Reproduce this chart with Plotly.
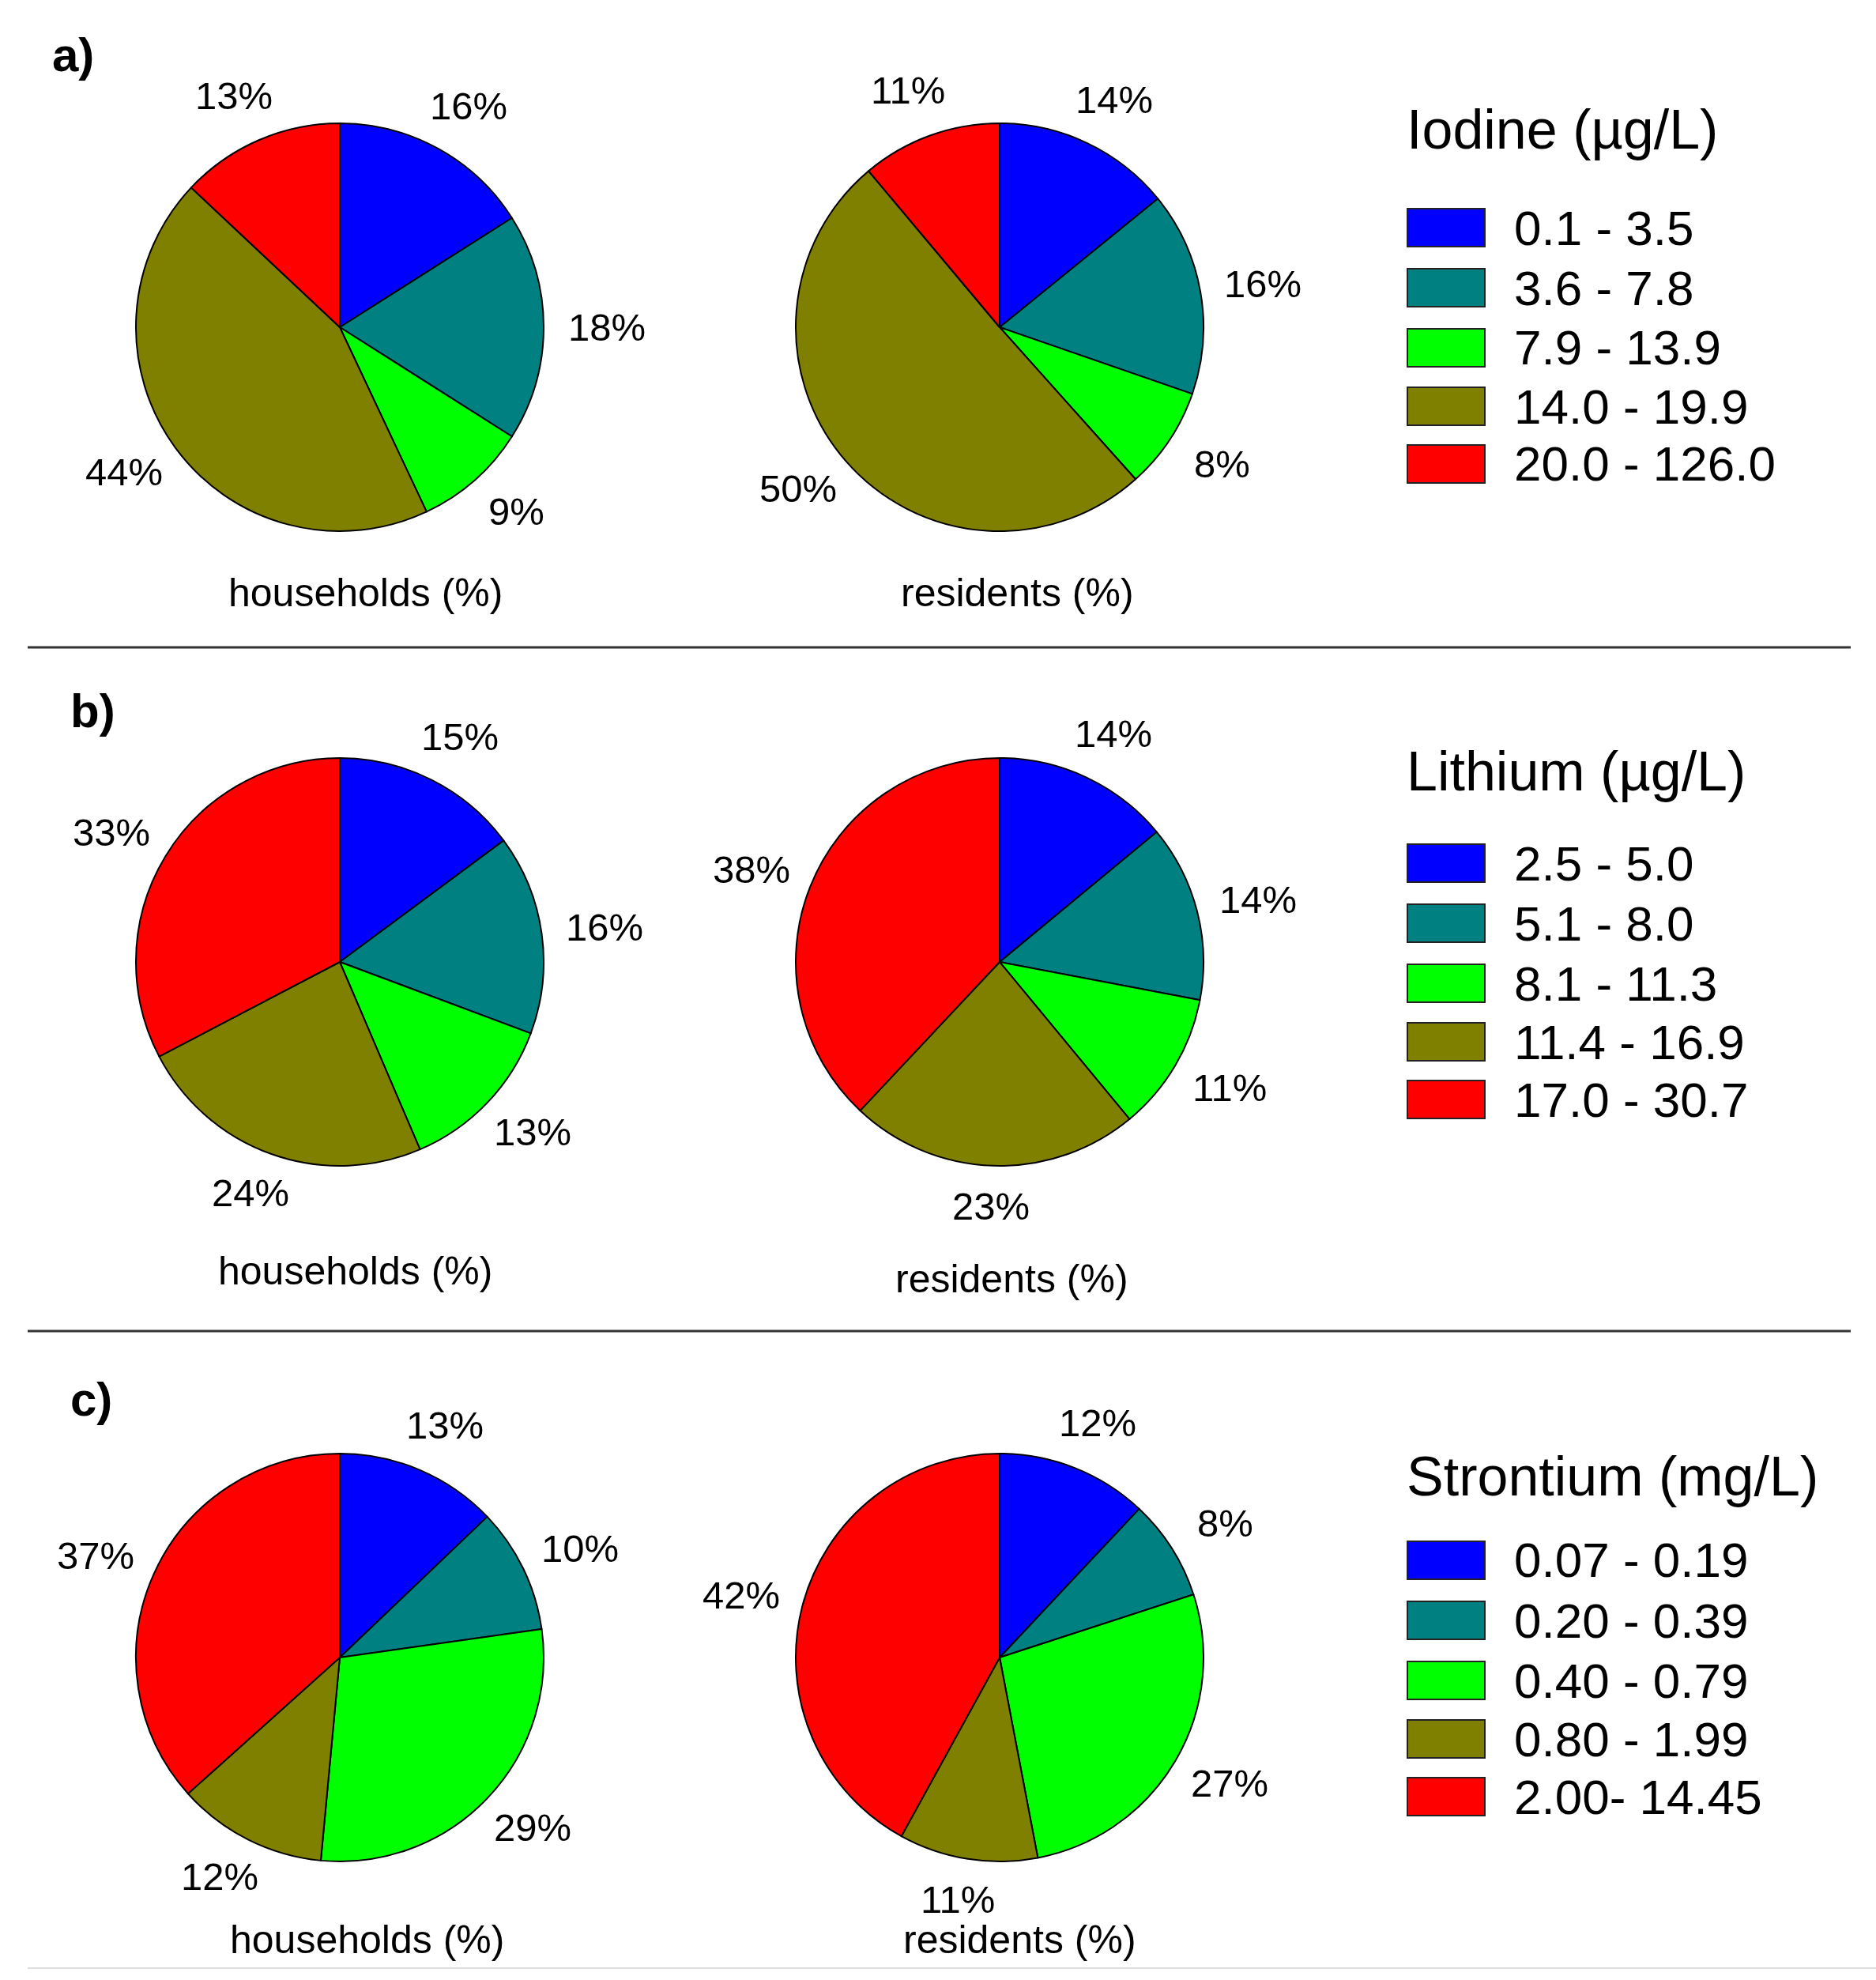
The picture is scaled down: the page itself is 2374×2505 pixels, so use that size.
import math
import plotly.graph_objects as go

# slice colours shared by all three panels (lowest class first)
colors = ["#0000FF", "#008080", "#00FF00", "#808000", "#FF0000"]

# a) iodine
iodine_classes = ["0.1 - 3.5", "3.6 - 7.8", "7.9 - 13.9", "14.0 - 19.9", "20.0 - 126.0"]
iodine_households = [16, 18, 9, 44, 13]
iodine_residents = [14, 16, 8, 50, 11]

# b) lithium
lithium_classes = ["2.5 - 5.0", "5.1 - 8.0", "8.1 - 11.3", "11.4 - 16.9", "17.0 - 30.7"]
lithium_households = [15, 16, 13, 24, 33]
lithium_residents = [14, 14, 11, 23, 38]

# c) strontium
strontium_classes = ["0.07 - 0.19", "0.20 - 0.39", "0.40 - 0.79", "0.80 - 1.99", "2.00- 14.45"]
strontium_households = [13, 10, 29, 12, 37]
strontium_residents = [12, 8, 27, 11, 42]

W, H = 2374, 2505
FONT = "Liberation Sans, Arial, sans-serif"
R = 258          # pie radius in px

panels = [
    dict(tag="a)", tag_xy=(64, 70), cy=414, title="Iodine (µg/L)", title_y=164, row0=288,
         classes=iodine_classes, hh=iodine_households, rs=iodine_residents, cap_y=(750, 750)),
    dict(tag="b)", tag_xy=(87, 900), cy=1217, title="Lithium (µg/L)", title_y=976, row0=1092,
         classes=lithium_classes, hh=lithium_households, rs=lithium_residents, cap_y=(1608, 1618)),
    dict(tag="c)", tag_xy=(87, 1770), cy=2097, title="Strontium (mg/L)", title_y=1868, row0=1974,
         classes=strontium_classes, hh=strontium_households, rs=strontium_residents, cap_y=(2454, 2454)),
]
pie_x = [430, 1265]
cap_x = [[462, 1287], [449, 1280], [464, 1290]]
row_off = [0, 76, 152, 226, 299]


def px(x):
    return x / W


def py(y):
    return 1 - y / H


fig = go.Figure()
annotations = []
shapes = []

for i, p in enumerate(panels):
    for j, (vals, cap) in enumerate([(p["hh"], "households (%)"), (p["rs"], "residents (%)")]):
        cx, cy = pie_x[j], p["cy"]
        fig.add_trace(go.Pie(
            values=vals,
            labels=p["classes"],
            marker=dict(colors=colors, line=dict(color="black", width=2)),
            sort=False,
            direction="clockwise",
            rotation=0,
            textinfo="none",
            hoverinfo="label+value",
            showlegend=False,
            domain=dict(x=[px(cx - R), px(cx + R)], y=[py(cy + R), py(cy - R)]),
        ))
        # percentage labels on an ellipse around the pie, at each slice's middle angle
        total = sum(vals)
        cum = 0
        for v in vals:
            mid = (cum + v / 2) / total * 2 * math.pi
            cum += v
            s, c = math.sin(mid), math.cos(mid)
            lx = cx + 1.31 * R * s
            ly = cy - (1.22 + 0.02 * c) * R * c
            annotations.append(dict(x=px(lx), y=py(ly), xref="paper", yref="paper",
                                    text=f"{v}%", showarrow=False,
                                    xanchor="center", yanchor="middle",
                                    font=dict(size=49, color="black", family=FONT)))
        annotations.append(dict(x=px(cap_x[i][j]), y=py(p["cap_y"][j]), xref="paper", yref="paper",
                                text=cap, showarrow=False, xanchor="center", yanchor="middle",
                                font=dict(size=50, color="black", family=FONT)))

    # panel tag
    annotations.append(dict(x=px(p["tag_xy"][0]), y=py(p["tag_xy"][1]), xref="paper", yref="paper",
                            text=f"<b>{p['tag']}</b>", showarrow=False,
                            xanchor="left", yanchor="middle",
                            font=dict(size=60, color="black", family=FONT)))

    # legend block
    annotations.append(dict(x=px(1778), y=py(p["title_y"]), xref="paper", yref="paper",
                            text=p["title"], showarrow=False, xanchor="left", yanchor="middle",
                            font=dict(size=70, color="black", family=FONT)))
    for k, (lab, col) in enumerate(zip(p["classes"], colors)):
        yc = p["row0"] + row_off[k]
        shapes.append(dict(type="rect", xref="paper", yref="paper",
                           x0=px(1781), x1=px(1879), y0=py(yc - 24), y1=py(yc + 24),
                           fillcolor=col, line=dict(color="#222222", width=2)))
        annotations.append(dict(x=px(1914), y=py(yc), xref="paper", yref="paper",
                                text=lab, showarrow=False, xanchor="left", yanchor="middle",
                                font=dict(size=62, color="black", family=FONT)))

# separators between panels
for ys in [819, 1684]:
    shapes.append(dict(type="line", xref="paper", yref="paper",
                       x0=px(35), x1=px(2342), y0=py(ys), y1=py(ys),
                       line=dict(color="#333333", width=3)))
shapes.append(dict(type="line", xref="paper", yref="paper",
                   x0=px(35), x1=1, y0=py(2490), y1=py(2490),
                   line=dict(color="#dddddd", width=2)))

fig.update_layout(
    width=W, height=H,
    margin=dict(l=0, r=0, t=0, b=0),
    paper_bgcolor="white",
    plot_bgcolor="white",
    annotations=annotations,
    shapes=shapes,
    font=dict(family=FONT),
)

fig.write_html("out.html", config={"displayModeBar": False},
               post_script="document.body.style.margin='0px';")
